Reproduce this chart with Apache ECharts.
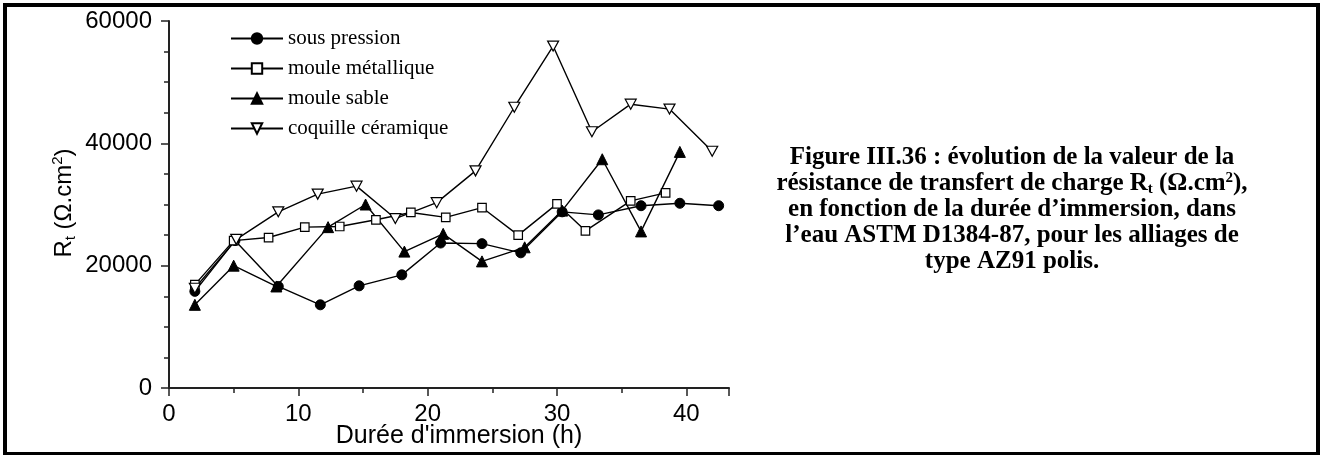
<!DOCTYPE html>
<html>
<head>
<meta charset="utf-8">
<script src="https://cdn.jsdelivr.net/npm/echarts@6/dist/echarts.min.js"></script>
<style>
html,body{margin:0;padding:0;background:#fff;}
#chart{width:1321px;height:455px;}
</style>
</head>
<body>
<div id="chart"></div>
<script>
// ---- Data ----
var seriesNames = ['sous pression', 'moule métallique', 'moule sable', 'coquille céramique'];

var sousPressionX = [2.0, 5.1, 8.45, 11.7, 14.7, 18.0, 21.0, 24.2, 27.2, 30.4, 33.2, 36.5, 39.5, 42.5];
var sousPressionY = [15800, 24100, 16600, 13600, 16700, 18500, 23700, 23600, 22100, 28800, 28300, 29800, 30200, 29800];

var mouleMetalX = [2.0, 5.0, 7.7, 10.5, 13.2, 16.0, 18.7, 21.4, 24.2, 27.0, 30.0, 32.2, 35.7, 38.4];
var mouleMetalY = [16900, 24100, 24600, 26300, 26400, 27500, 28700, 27900, 29500, 25000, 30100, 25700, 30600, 31900];

var mouleSableX = [2.0, 5.0, 8.3, 12.3, 15.2, 18.2, 21.2, 24.2, 27.5, 30.4, 33.5, 36.5, 39.5];
var mouleSableY = [13600, 20000, 16600, 26300, 30000, 22300, 25200, 20700, 23000, 29000, 37400, 25600, 38600];

var coquilleX = [2.0, 5.2, 8.45, 11.5, 14.5, 17.5, 20.7, 23.7, 26.7, 29.7, 32.7, 35.7, 38.7, 42.0];
var coquilleY = [16300, 24300, 28800, 31700, 33000, 27700, 30300, 35500, 45900, 55900, 41900, 46400, 45600, 38700];

var xTickValues = [0, 10, 20, 30, 40];
var yTickValues = [0, 20000, 40000, 60000];

var xAxisTitle = "Durée d'immersion (h)";
var captionLines = [
  '{b|Figure III.36 : évolution de la valeur de la}',
  '{b|résistance de transfert de charge R}{bs|t}{b| (Ω.cm}{bp|2}{b|),}',
  '{b|en fonction de la durée d’immersion, dans}',
  '{b|l’eau ASTM D1384-87, pour les alliages de}',
  '{b|type AZ91 polis.}'
];

function pairs(xs, ys) {
  var out = [];
  for (var i = 0; i < xs.length; i++) out.push([xs[i], ys[i]]);
  return out;
}

var chart = echarts.init(document.getElementById('chart'), null, {renderer: 'canvas'});

var lineStyle = {color: '#000', width: 1.4};
var downTri = 'path://M0,0 L10,0 L5,9 Z';

var option = {
  animation: false,
  backgroundColor: '#fff',
  grid: {left: 169, top: 21, width: 560, height: 367, containLabel: false},
  legend: {
    orient: 'vertical',
    left: 225,
    top: 23,
    itemWidth: 52,
    itemHeight: 13,
    itemGap: 9,
    textStyle: {fontFamily: 'Liberation Serif', fontSize: 21, color: '#000', lineHeight: 21},
    data: seriesNames
  },
  xAxis: {
    type: 'value',
    min: 0,
    max: 43.3,
    interval: 10,
    axisLine: {lineStyle: {color: '#222', width: 2}},
    axisTick: {show: true, inside: false, length: 8, lineStyle: {color: '#222', width: 1.5}},
    minorTick: {show: true, splitNumber: 2, length: 5, lineStyle: {color: '#222', width: 1.5}},
    splitLine: {show: false},
    axisLabel: {
      fontFamily: 'Liberation Sans', fontSize: 24, color: '#000', margin: 14,
      showMaxLabel: false,
      formatter: function (v) { return xTickValues.indexOf(v) >= 0 ? String(v) : ''; }
    }
  },
  yAxis: {
    type: 'value',
    min: 0,
    max: 60000,
    interval: 20000,
    axisLine: {show: true, lineStyle: {color: '#222', width: 2}},
    axisTick: {show: true, inside: false, length: 8, lineStyle: {color: '#222', width: 1.5}},
    minorTick: {show: true, splitNumber: 4, length: 5, lineStyle: {color: '#222', width: 1.5}},
    splitLine: {show: false},
    axisLabel: {
      fontFamily: 'Liberation Sans', fontSize: 24, color: '#000', margin: 17,
      formatter: function (v) { return yTickValues.indexOf(v) >= 0 ? String(v) : ''; }
    }
  },
  series: [
    {
      name: seriesNames[0], type: 'line', data: pairs(sousPressionX, sousPressionY),
      symbol: 'circle', symbolSize: 10, lineStyle: lineStyle,
      itemStyle: {color: '#000', borderColor: '#000', borderWidth: 1}
    },
    {
      name: seriesNames[1], type: 'line', data: pairs(mouleMetalX, mouleMetalY),
      symbol: 'rect', symbolSize: 8.5, lineStyle: lineStyle,
      itemStyle: {color: '#fff', borderColor: '#000', borderWidth: 1.2}
    },
    {
      name: seriesNames[2], type: 'line', data: pairs(mouleSableX, mouleSableY),
      symbol: 'triangle', symbolSize: 11, lineStyle: lineStyle,
      itemStyle: {color: '#000', borderColor: '#000', borderWidth: 1}
    },
    {
      name: seriesNames[3], type: 'line', data: pairs(coquilleX, coquilleY),
      symbol: downTri, symbolSize: [11, 10], lineStyle: lineStyle,
      itemStyle: {color: '#fff', borderColor: '#000', borderWidth: 1.2}
    }
  ],
  graphic: [
    {
      type: 'rect', silent: true, z: 100,
      shape: {x: 5, y: 5, width: 1313, height: 449},
      style: {fill: 'none', stroke: '#000', lineWidth: 4}
    },
    {
      type: 'text', x: 459, y: 436,
      style: {
        text: xAxisTitle, fontFamily: 'Liberation Sans', fontSize: 25, fill: '#000',
        align: 'center', verticalAlign: 'middle'
      }
    },
    {
      type: 'text', x: 64, y: 203, rotation: Math.PI / 2,
      style: {
        text: '{a|R}{s|t}{a| (Ω.cm}{p|2}{a|)}',
        align: 'center', verticalAlign: 'middle', fill: '#000',
        rich: {
          a: {fontFamily: 'Liberation Sans', fontSize: 24, fill: '#000', lineHeight: 28},
          s: {fontFamily: 'Liberation Sans', fontSize: 15, fill: '#000', verticalAlign: 'bottom', lineHeight: 28, padding: [10, 0, 0, 0]},
          p: {fontFamily: 'Liberation Sans', fontSize: 15, fill: '#000', verticalAlign: 'top', lineHeight: 28, padding: [0, 0, 10, 0]}
        }
      }
    },
    {
      type: 'text', x: 1012, y: 144,
      style: {
        text: captionLines.join('\n'),
        align: 'center', verticalAlign: 'top', fill: '#000',
        rich: {
          b: {fontFamily: 'Liberation Serif', fontWeight: 'bold', fontSize: 25, fill: '#000', lineHeight: 26.2},
          bs: {fontFamily: 'Liberation Serif', fontWeight: 'bold', fontSize: 15, fill: '#000', lineHeight: 26.2, verticalAlign: 'bottom', padding: [8, 0, 0, 0]},
          bp: {fontFamily: 'Liberation Serif', fontWeight: 'bold', fontSize: 15, fill: '#000', lineHeight: 26.2, verticalAlign: 'top', padding: [0, 0, 8, 0]}
        }
      }
    }
  ]
};

chart.setOption(option);
</script>
</body>
</html>
